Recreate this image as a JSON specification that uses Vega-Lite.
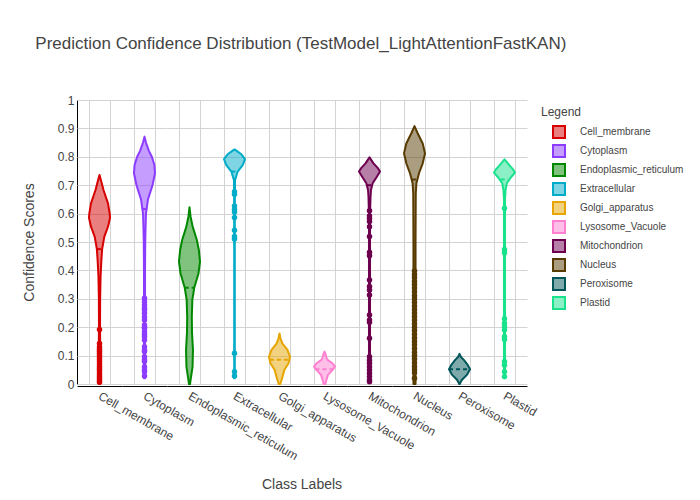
{
  "$schema": "https://vega.github.io/schema/vega-lite/v6.json",
  "background": "white",
  "padding": {"left": 22, "top": 35, "right": 5, "bottom": 5},
  "title": {
    "text": "Prediction Confidence Distribution (TestModel_LightAttentionFastKAN)",
    "anchor": "start",
    "frame": "bounds",
    "dx": 13,
    "offset": 41,
    "fontSize": 17,
    "fontWeight": "normal",
    "color": "#444"
  },
  "data": {
    "values": [
      {"kind": "violin", "class": "Cell_membrane", "y": 0.736, "w": 0},
      {"kind": "violin", "class": "Cell_membrane", "y": 0.71, "w": 0.19},
      {"kind": "violin", "class": "Cell_membrane", "y": 0.683, "w": 0.38},
      {"kind": "violin", "class": "Cell_membrane", "y": 0.636, "w": 0.81},
      {"kind": "violin", "class": "Cell_membrane", "y": 0.6, "w": 0.97},
      {"kind": "violin", "class": "Cell_membrane", "y": 0.585, "w": 1.0},
      {"kind": "violin", "class": "Cell_membrane", "y": 0.554, "w": 0.81},
      {"kind": "violin", "class": "Cell_membrane", "y": 0.519, "w": 0.46},
      {"kind": "violin", "class": "Cell_membrane", "y": 0.475, "w": 0.25},
      {"kind": "violin", "class": "Cell_membrane", "y": 0.437, "w": 0.18},
      {"kind": "violin", "class": "Cell_membrane", "y": 0.378, "w": 0.1},
      {"kind": "violin", "class": "Cell_membrane", "y": 0.3, "w": 0.06},
      {"kind": "violin", "class": "Cell_membrane", "y": 0.2, "w": 0.05},
      {"kind": "violin", "class": "Cell_membrane", "y": 0.12, "w": 0.07},
      {"kind": "violin", "class": "Cell_membrane", "y": 0.06, "w": 0.1},
      {"kind": "violin", "class": "Cell_membrane", "y": 0.02, "w": 0.1},
      {"kind": "violin", "class": "Cell_membrane", "y": 0.0, "w": 0.05},

      {"kind": "violin", "class": "Cytoplasm", "y": 0.871, "w": 0},
      {"kind": "violin", "class": "Cytoplasm", "y": 0.85, "w": 0.14},
      {"kind": "violin", "class": "Cytoplasm", "y": 0.82, "w": 0.43},
      {"kind": "violin", "class": "Cytoplasm", "y": 0.8, "w": 0.7},
      {"kind": "violin", "class": "Cytoplasm", "y": 0.77, "w": 0.95},
      {"kind": "violin", "class": "Cytoplasm", "y": 0.742, "w": 1.0},
      {"kind": "violin", "class": "Cytoplasm", "y": 0.7, "w": 0.76},
      {"kind": "violin", "class": "Cytoplasm", "y": 0.65, "w": 0.33},
      {"kind": "violin", "class": "Cytoplasm", "y": 0.6, "w": 0.14},
      {"kind": "violin", "class": "Cytoplasm", "y": 0.55, "w": 0.1},
      {"kind": "violin", "class": "Cytoplasm", "y": 0.5, "w": 0.07},
      {"kind": "violin", "class": "Cytoplasm", "y": 0.4, "w": 0.05},
      {"kind": "violin", "class": "Cytoplasm", "y": 0.2, "w": 0.05},
      {"kind": "violin", "class": "Cytoplasm", "y": 0.02, "w": 0.05},

      {"kind": "violin", "class": "Endoplasmic_reticulum", "y": 0.622, "w": 0},
      {"kind": "violin", "class": "Endoplasmic_reticulum", "y": 0.59, "w": 0.1},
      {"kind": "violin", "class": "Endoplasmic_reticulum", "y": 0.554, "w": 0.3},
      {"kind": "violin", "class": "Endoplasmic_reticulum", "y": 0.507, "w": 0.7},
      {"kind": "violin", "class": "Endoplasmic_reticulum", "y": 0.472, "w": 0.89},
      {"kind": "violin", "class": "Endoplasmic_reticulum", "y": 0.431, "w": 1.0},
      {"kind": "violin", "class": "Endoplasmic_reticulum", "y": 0.39, "w": 0.86},
      {"kind": "violin", "class": "Endoplasmic_reticulum", "y": 0.34, "w": 0.46},
      {"kind": "violin", "class": "Endoplasmic_reticulum", "y": 0.296, "w": 0.27},
      {"kind": "violin", "class": "Endoplasmic_reticulum", "y": 0.237, "w": 0.22},
      {"kind": "violin", "class": "Endoplasmic_reticulum", "y": 0.18, "w": 0.24},
      {"kind": "violin", "class": "Endoplasmic_reticulum", "y": 0.12, "w": 0.33},
      {"kind": "violin", "class": "Endoplasmic_reticulum", "y": 0.06, "w": 0.29},
      {"kind": "violin", "class": "Endoplasmic_reticulum", "y": 0.014, "w": 0.1},
      {"kind": "violin", "class": "Endoplasmic_reticulum", "y": 0.0, "w": 0.05},

      {"kind": "violin", "class": "Extracellular", "y": 0.826, "w": 0},
      {"kind": "violin", "class": "Extracellular", "y": 0.82, "w": 0.24},
      {"kind": "violin", "class": "Extracellular", "y": 0.81, "w": 0.62},
      {"kind": "violin", "class": "Extracellular", "y": 0.792, "w": 1.0},
      {"kind": "violin", "class": "Extracellular", "y": 0.771, "w": 0.78},
      {"kind": "violin", "class": "Extracellular", "y": 0.748, "w": 0.3},
      {"kind": "violin", "class": "Extracellular", "y": 0.718, "w": 0.05},
      {"kind": "violin", "class": "Extracellular", "y": 0.6, "w": 0.03},
      {"kind": "violin", "class": "Extracellular", "y": 0.02, "w": 0.03},

      {"kind": "violin", "class": "Golgi_apparatus", "y": 0.178, "w": 0},
      {"kind": "violin", "class": "Golgi_apparatus", "y": 0.16, "w": 0.1},
      {"kind": "violin", "class": "Golgi_apparatus", "y": 0.143, "w": 0.27},
      {"kind": "violin", "class": "Golgi_apparatus", "y": 0.12, "w": 0.76},
      {"kind": "violin", "class": "Golgi_apparatus", "y": 0.096, "w": 1.0},
      {"kind": "violin", "class": "Golgi_apparatus", "y": 0.073, "w": 0.86},
      {"kind": "violin", "class": "Golgi_apparatus", "y": 0.049, "w": 0.46},
      {"kind": "violin", "class": "Golgi_apparatus", "y": 0.026, "w": 0.29},
      {"kind": "violin", "class": "Golgi_apparatus", "y": 0.008, "w": 0.14},
      {"kind": "violin", "class": "Golgi_apparatus", "y": 0.0, "w": 0.08},

      {"kind": "violin", "class": "Lysosome_Vacuole", "y": 0.114, "w": 0},
      {"kind": "violin", "class": "Lysosome_Vacuole", "y": 0.105, "w": 0.1},
      {"kind": "violin", "class": "Lysosome_Vacuole", "y": 0.094, "w": 0.18},
      {"kind": "violin", "class": "Lysosome_Vacuole", "y": 0.085, "w": 0.29},
      {"kind": "violin", "class": "Lysosome_Vacuole", "y": 0.073, "w": 0.76},
      {"kind": "violin", "class": "Lysosome_Vacuole", "y": 0.061, "w": 1.0},
      {"kind": "violin", "class": "Lysosome_Vacuole", "y": 0.049, "w": 0.75},
      {"kind": "violin", "class": "Lysosome_Vacuole", "y": 0.032, "w": 0.33},
      {"kind": "violin", "class": "Lysosome_Vacuole", "y": 0.014, "w": 0.18},
      {"kind": "violin", "class": "Lysosome_Vacuole", "y": 0.0, "w": 0.08},

      {"kind": "violin", "class": "Mitochondrion", "y": 0.798, "w": 0},
      {"kind": "violin", "class": "Mitochondrion", "y": 0.777, "w": 0.38},
      {"kind": "violin", "class": "Mitochondrion", "y": 0.759, "w": 0.82},
      {"kind": "violin", "class": "Mitochondrion", "y": 0.748, "w": 1.0},
      {"kind": "violin", "class": "Mitochondrion", "y": 0.73, "w": 0.7},
      {"kind": "violin", "class": "Mitochondrion", "y": 0.707, "w": 0.3},
      {"kind": "violin", "class": "Mitochondrion", "y": 0.683, "w": 0.14},
      {"kind": "violin", "class": "Mitochondrion", "y": 0.66, "w": 0.1},
      {"kind": "violin", "class": "Mitochondrion", "y": 0.6, "w": 0.05},
      {"kind": "violin", "class": "Mitochondrion", "y": 0.01, "w": 0.05},

      {"kind": "violin", "class": "Nucleus", "y": 0.908, "w": 0},
      {"kind": "violin", "class": "Nucleus", "y": 0.883, "w": 0.3},
      {"kind": "violin", "class": "Nucleus", "y": 0.847, "w": 0.78},
      {"kind": "violin", "class": "Nucleus", "y": 0.812, "w": 1.0},
      {"kind": "violin", "class": "Nucleus", "y": 0.777, "w": 0.78},
      {"kind": "violin", "class": "Nucleus", "y": 0.742, "w": 0.43},
      {"kind": "violin", "class": "Nucleus", "y": 0.707, "w": 0.18},
      {"kind": "violin", "class": "Nucleus", "y": 0.671, "w": 0.12},
      {"kind": "violin", "class": "Nucleus", "y": 0.5, "w": 0.1},
      {"kind": "violin", "class": "Nucleus", "y": 0.0, "w": 0.1},

      {"kind": "violin", "class": "Peroxisome", "y": 0.106, "w": 0},
      {"kind": "violin", "class": "Peroxisome", "y": 0.095, "w": 0.14},
      {"kind": "violin", "class": "Peroxisome", "y": 0.085, "w": 0.41},
      {"kind": "violin", "class": "Peroxisome", "y": 0.067, "w": 0.78},
      {"kind": "violin", "class": "Peroxisome", "y": 0.052, "w": 1.0},
      {"kind": "violin", "class": "Peroxisome", "y": 0.032, "w": 0.7},
      {"kind": "violin", "class": "Peroxisome", "y": 0.014, "w": 0.22},
      {"kind": "violin", "class": "Peroxisome", "y": 0.0, "w": 0.02},

      {"kind": "violin", "class": "Plastid", "y": 0.791, "w": 0},
      {"kind": "violin", "class": "Plastid", "y": 0.771, "w": 0.46},
      {"kind": "violin", "class": "Plastid", "y": 0.756, "w": 0.81},
      {"kind": "violin", "class": "Plastid", "y": 0.744, "w": 1.0},
      {"kind": "violin", "class": "Plastid", "y": 0.728, "w": 0.62},
      {"kind": "violin", "class": "Plastid", "y": 0.707, "w": 0.22},
      {"kind": "violin", "class": "Plastid", "y": 0.683, "w": 0.1},
      {"kind": "violin", "class": "Plastid", "y": 0.65, "w": 0.05},
      {"kind": "violin", "class": "Plastid", "y": 0.02, "w": 0.05},

      {"kind": "mean", "class": "Cell_membrane", "y": 0.475, "lo": 0.375, "hi": 0.625},
      {"kind": "mean", "class": "Cytoplasm", "y": 0.616, "lo": 0.4, "hi": 0.6},
      {"kind": "mean", "class": "Endoplasmic_reticulum", "y": 0.339, "lo": 0.27, "hi": 0.73},
      {"kind": "mean", "class": "Extracellular", "y": 0.748, "lo": 0.35, "hi": 0.65},
      {"kind": "mean", "class": "Golgi_apparatus", "y": 0.085, "lo": 0.04, "hi": 0.96},
      {"kind": "mean", "class": "Lysosome_Vacuole", "y": 0.052, "lo": 0.07, "hi": 0.93},
      {"kind": "mean", "class": "Mitochondrion", "y": 0.7, "lo": 0.38, "hi": 0.62},
      {"kind": "mean", "class": "Nucleus", "y": 0.72, "lo": 0.38, "hi": 0.62},
      {"kind": "mean", "class": "Peroxisome", "y": 0.052, "lo": 0.0, "hi": 1.0},
      {"kind": "mean", "class": "Plastid", "y": 0.72, "lo": 0.32, "hi": 0.68},

      {"kind": "point", "class": "Cell_membrane", "y": 0.192},
      {"kind": "point", "class": "Cell_membrane", "y": 0.143},
      {"kind": "point", "class": "Cell_membrane", "y": 0.13},
      {"kind": "point", "class": "Cell_membrane", "y": 0.122},
      {"kind": "point", "class": "Cell_membrane", "y": 0.115},
      {"kind": "point", "class": "Cell_membrane", "y": 0.108},
      {"kind": "point", "class": "Cell_membrane", "y": 0.1},
      {"kind": "point", "class": "Cell_membrane", "y": 0.092},
      {"kind": "point", "class": "Cell_membrane", "y": 0.085},
      {"kind": "point", "class": "Cell_membrane", "y": 0.078},
      {"kind": "point", "class": "Cell_membrane", "y": 0.07},
      {"kind": "point", "class": "Cell_membrane", "y": 0.062},
      {"kind": "point", "class": "Cell_membrane", "y": 0.055},
      {"kind": "point", "class": "Cell_membrane", "y": 0.048},
      {"kind": "point", "class": "Cell_membrane", "y": 0.04},
      {"kind": "point", "class": "Cell_membrane", "y": 0.033},
      {"kind": "point", "class": "Cell_membrane", "y": 0.026},
      {"kind": "point", "class": "Cell_membrane", "y": 0.019},
      {"kind": "point", "class": "Cell_membrane", "y": 0.012},
      {"kind": "point", "class": "Cell_membrane", "y": 0.006},

      {"kind": "point", "class": "Cytoplasm", "y": 0.302},
      {"kind": "point", "class": "Cytoplasm", "y": 0.29},
      {"kind": "point", "class": "Cytoplasm", "y": 0.278},
      {"kind": "point", "class": "Cytoplasm", "y": 0.268},
      {"kind": "point", "class": "Cytoplasm", "y": 0.261},
      {"kind": "point", "class": "Cytoplasm", "y": 0.249},
      {"kind": "point", "class": "Cytoplasm", "y": 0.236},
      {"kind": "point", "class": "Cytoplasm", "y": 0.225},
      {"kind": "point", "class": "Cytoplasm", "y": 0.208},
      {"kind": "point", "class": "Cytoplasm", "y": 0.2},
      {"kind": "point", "class": "Cytoplasm", "y": 0.196},
      {"kind": "point", "class": "Cytoplasm", "y": 0.184},
      {"kind": "point", "class": "Cytoplasm", "y": 0.175},
      {"kind": "point", "class": "Cytoplasm", "y": 0.167},
      {"kind": "point", "class": "Cytoplasm", "y": 0.155},
      {"kind": "point", "class": "Cytoplasm", "y": 0.131},
      {"kind": "point", "class": "Cytoplasm", "y": 0.12},
      {"kind": "point", "class": "Cytoplasm", "y": 0.114},
      {"kind": "point", "class": "Cytoplasm", "y": 0.096},
      {"kind": "point", "class": "Cytoplasm", "y": 0.085},
      {"kind": "point", "class": "Cytoplasm", "y": 0.079},
      {"kind": "point", "class": "Cytoplasm", "y": 0.061},
      {"kind": "point", "class": "Cytoplasm", "y": 0.05},
      {"kind": "point", "class": "Cytoplasm", "y": 0.043},
      {"kind": "point", "class": "Cytoplasm", "y": 0.028},

      {"kind": "point", "class": "Extracellular", "y": 0.677},
      {"kind": "point", "class": "Extracellular", "y": 0.668},
      {"kind": "point", "class": "Extracellular", "y": 0.627},
      {"kind": "point", "class": "Extracellular", "y": 0.615},
      {"kind": "point", "class": "Extracellular", "y": 0.606},
      {"kind": "point", "class": "Extracellular", "y": 0.586},
      {"kind": "point", "class": "Extracellular", "y": 0.541},
      {"kind": "point", "class": "Extracellular", "y": 0.519},
      {"kind": "point", "class": "Extracellular", "y": 0.511},
      {"kind": "point", "class": "Extracellular", "y": 0.108},
      {"kind": "point", "class": "Extracellular", "y": 0.043},
      {"kind": "point", "class": "Extracellular", "y": 0.028},

      {"kind": "point", "class": "Mitochondrion", "y": 0.61},
      {"kind": "point", "class": "Mitochondrion", "y": 0.592},
      {"kind": "point", "class": "Mitochondrion", "y": 0.583},
      {"kind": "point", "class": "Mitochondrion", "y": 0.572},
      {"kind": "point", "class": "Mitochondrion", "y": 0.554},
      {"kind": "point", "class": "Mitochondrion", "y": 0.519},
      {"kind": "point", "class": "Mitochondrion", "y": 0.464},
      {"kind": "point", "class": "Mitochondrion", "y": 0.452},
      {"kind": "point", "class": "Mitochondrion", "y": 0.366},
      {"kind": "point", "class": "Mitochondrion", "y": 0.343},
      {"kind": "point", "class": "Mitochondrion", "y": 0.331},
      {"kind": "point", "class": "Mitochondrion", "y": 0.313},
      {"kind": "point", "class": "Mitochondrion", "y": 0.243},
      {"kind": "point", "class": "Mitochondrion", "y": 0.225},
      {"kind": "point", "class": "Mitochondrion", "y": 0.217},
      {"kind": "point", "class": "Mitochondrion", "y": 0.161},
      {"kind": "point", "class": "Mitochondrion", "y": 0.096},
      {"kind": "point", "class": "Mitochondrion", "y": 0.084},
      {"kind": "point", "class": "Mitochondrion", "y": 0.073},
      {"kind": "point", "class": "Mitochondrion", "y": 0.061},
      {"kind": "point", "class": "Mitochondrion", "y": 0.049},
      {"kind": "point", "class": "Mitochondrion", "y": 0.038},
      {"kind": "point", "class": "Mitochondrion", "y": 0.026},
      {"kind": "point", "class": "Mitochondrion", "y": 0.014},
      {"kind": "point", "class": "Mitochondrion", "y": 0.008},

      {"kind": "point", "class": "Nucleus", "y": 0.398},
      {"kind": "point", "class": "Nucleus", "y": 0.386},
      {"kind": "point", "class": "Nucleus", "y": 0.375},
      {"kind": "point", "class": "Nucleus", "y": 0.362},
      {"kind": "point", "class": "Nucleus", "y": 0.35},
      {"kind": "point", "class": "Nucleus", "y": 0.338},
      {"kind": "point", "class": "Nucleus", "y": 0.325},
      {"kind": "point", "class": "Nucleus", "y": 0.312},
      {"kind": "point", "class": "Nucleus", "y": 0.3},
      {"kind": "point", "class": "Nucleus", "y": 0.288},
      {"kind": "point", "class": "Nucleus", "y": 0.275},
      {"kind": "point", "class": "Nucleus", "y": 0.262},
      {"kind": "point", "class": "Nucleus", "y": 0.25},
      {"kind": "point", "class": "Nucleus", "y": 0.238},
      {"kind": "point", "class": "Nucleus", "y": 0.225},
      {"kind": "point", "class": "Nucleus", "y": 0.212},
      {"kind": "point", "class": "Nucleus", "y": 0.2},
      {"kind": "point", "class": "Nucleus", "y": 0.188},
      {"kind": "point", "class": "Nucleus", "y": 0.175},
      {"kind": "point", "class": "Nucleus", "y": 0.162},
      {"kind": "point", "class": "Nucleus", "y": 0.15},
      {"kind": "point", "class": "Nucleus", "y": 0.138},
      {"kind": "point", "class": "Nucleus", "y": 0.125},
      {"kind": "point", "class": "Nucleus", "y": 0.112},
      {"kind": "point", "class": "Nucleus", "y": 0.1},
      {"kind": "point", "class": "Nucleus", "y": 0.088},
      {"kind": "point", "class": "Nucleus", "y": 0.075},
      {"kind": "point", "class": "Nucleus", "y": 0.062},
      {"kind": "point", "class": "Nucleus", "y": 0.05},
      {"kind": "point", "class": "Nucleus", "y": 0.04},
      {"kind": "point", "class": "Nucleus", "y": 0.02},

      {"kind": "point", "class": "Plastid", "y": 0.619},
      {"kind": "point", "class": "Plastid", "y": 0.474},
      {"kind": "point", "class": "Plastid", "y": 0.462},
      {"kind": "point", "class": "Plastid", "y": 0.23},
      {"kind": "point", "class": "Plastid", "y": 0.214},
      {"kind": "point", "class": "Plastid", "y": 0.202},
      {"kind": "point", "class": "Plastid", "y": 0.19},
      {"kind": "point", "class": "Plastid", "y": 0.167},
      {"kind": "point", "class": "Plastid", "y": 0.157},
      {"kind": "point", "class": "Plastid", "y": 0.079},
      {"kind": "point", "class": "Plastid", "y": 0.067},
      {"kind": "point", "class": "Plastid", "y": 0.043},
      {"kind": "point", "class": "Plastid", "y": 0.026}
    ]
  },
  "facet": {
    "column": {
      "field": "class",
      "type": "nominal",
      "title": "Class Labels",
      "header": {
        "labelOrient": "bottom",
        "labelAngle": 30,
        "labelAlign": "left",
        "labelBaseline": "middle",
        "labelPadding": 9,
        "labelFontSize": 12,
        "labelColor": "#444",
        "titleOrient": "bottom",
        "titleFontSize": 14,
        "titleFontWeight": "normal",
        "titleColor": "#444",
        "titlePadding": 5
      }
    }
  },
  "spacing": 0,
  "spec": {
    "width": 45,
    "height": 284,
    "layer": [
      {
        "transform": [{"filter": "datum.kind === 'violin'"}],
        "mark": {"type": "area", "orient": "horizontal", "fillOpacity": 0.5, "strokeWidth": 2, "strokeJoin": "round"},
        "encoding": {
          "y": {
            "field": "y",
            "type": "quantitative",
            "title": "Confidence Scores",
            "scale": {"domain": [0, 1], "nice": false}
          },
          "x": {
            "field": "w",
            "type": "quantitative",
            "title": null,
            "stack": "center",
            "impute": null,
            "scale": {"domain": [-0.57, 1.57], "nice": false, "zero": false}
          },
          "fill": {
            "field": "class",
            "type": "nominal",
            "scale": {
              "domain": ["Cell_membrane", "Cytoplasm", "Endoplasmic_reticulum", "Extracellular", "Golgi_apparatus", "Lysosome_Vacuole", "Mitochondrion", "Nucleus", "Peroxisome", "Plastid"],
              "range": ["#d60000", "#8c3cff", "#028800", "#00acc7", "#e6a500", "#ff7fd1", "#6c004f", "#583b00", "#005659", "#18e28c"]
            },
            "legend": {"title": "Legend", "encode": {"symbols": {"update": {"fillOpacity": {"value": 0.5}, "strokeWidth": {"value": 2}}}}}
          },
          "stroke": {
            "field": "class",
            "type": "nominal",
            "scale": {
              "domain": ["Cell_membrane", "Cytoplasm", "Endoplasmic_reticulum", "Extracellular", "Golgi_apparatus", "Lysosome_Vacuole", "Mitochondrion", "Nucleus", "Peroxisome", "Plastid"],
              "range": ["#d60000", "#8c3cff", "#028800", "#00acc7", "#e6a500", "#ff7fd1", "#6c004f", "#583b00", "#005659", "#18e28c"]
            },
            "legend": {"title": "Legend", "encode": {"symbols": {"update": {"fillOpacity": {"value": 0.5}, "strokeWidth": {"value": 2}}}}}
          }
        }
      },
      {
        "transform": [{"filter": "datum.kind === 'mean'"}],
        "mark": {"type": "rule", "strokeWidth": 2, "strokeDash": [4, 3]},
        "encoding": {
          "y": {"field": "y", "type": "quantitative", "title": "Confidence Scores"},
          "x": {"field": "lo", "type": "quantitative", "title": null},
          "x2": {"field": "hi"},
          "stroke": {"field": "class", "type": "nominal"}
        }
      },
      {
        "transform": [{"filter": "datum.kind === 'point'"}],
        "mark": {"type": "circle", "size": 30, "opacity": 1},
        "encoding": {
          "y": {"field": "y", "type": "quantitative", "title": "Confidence Scores"},
          "x": {"datum": 0.5, "title": null},
          "fill": {"field": "class", "type": "nominal"}
        }
      }
    ]
  },
  "config": {
    "font": "Liberation Sans",
    "view": {"stroke": null},
    "axisY": {
      "values": [0, 0.1, 0.2, 0.3, 0.4, 0.5, 0.6, 0.7, 0.8, 0.9, 1],
      "format": "~g",
      "labelOverlap": false,
      "ticks": false,
      "labelPadding": 3,
      "labelFontSize": 12,
      "labelColor": "#444",
      "titleFontSize": 14,
      "titleFontWeight": "normal",
      "titleColor": "#444",
      "titlePadding": 21,
      "gridColor": "#d3d3d3",
      "domainColor": "black"
    },
    "axisX": {
      "values": [0.5],
      "labels": false,
      "ticks": false,
      "grid": true,
      "gridColor": "#d3d3d3",
      "domainColor": "black"
    },
    "legend": {
      "orient": "none",
      "legendX": 464,
      "legendY": 7,
      "symbolType": "square",
      "symbolSize": 144,
      "symbolStrokeWidth": 2,
      "symbolOffset": 11,
      "labelOffset": 14,
      "labelFontSize": 10,
      "labelColor": "#444",
      "titleFontSize": 12,
      "titleFontWeight": "normal",
      "titleColor": "#444",
      "titlePadding": 6,
      "rowPadding": -1
    }
  }
}
